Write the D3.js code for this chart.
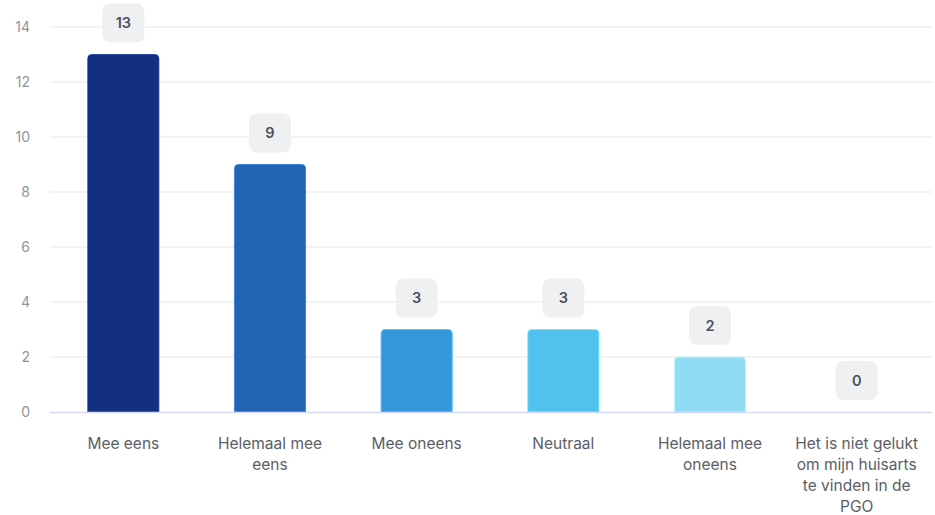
<!DOCTYPE html>
<html><head><meta charset="utf-8">
<script src="https://cdn.jsdelivr.net/npm/d3@7"></script>
<style>body{margin:0;background:#fff;font-family:Inter,"Noto Sans",sans-serif;}</style>
</head><body>
<svg id="c" width="935" height="515"></svg>
<script>
const categories = ["Mee eens","Helemaal mee eens","Mee oneens","Neutraal","Helemaal mee oneens","Het is niet gelukt om mijn huisarts te vinden in de PGO"];
const categoryLines = [["Mee eens"],["Helemaal mee","eens"],["Mee oneens"],["Neutraal"],["Helemaal mee","oneens"],["Het is niet gelukt","om mijn huisarts","te vinden in de","PGO"]];
const values = [13,9,3,3,2,0];
const colors = ["#12307f","#2464b4","#3598dc","#50c2ed","#90dcf3","#b9e9f8"];
const yTicks = [0,2,4,6,8,10,12,14];

const svg = d3.select("#c");
const x = d3.scaleBand().domain(categories).range([50,930]).paddingInner(0.515).paddingOuter(0.2575);
const y = d3.scaleLinear().domain([0,14]).range([412,27]);

// gridlines
svg.append("g").selectAll("line").data(yTicks.filter(d=>d>0)).join("line")
  .attr("x1",50).attr("x2",932).attr("y1",d=>y(d)).attr("y2",d=>y(d))
  .attr("stroke","#e6e7eb").attr("stroke-width",1);

// y axis labels
const yAxis = d3.axisLeft(y).tickValues(yTicks).tickSize(0).tickPadding(0);
const ga = svg.append("g").attr("transform","translate(30,0)").call(yAxis);
ga.select(".domain").remove();
ga.selectAll("text").attr("font-family","Inter, sans-serif").attr("font-size",14).attr("fill","#92959b");

// bars with rounded tops
const r = 4;
svg.append("g").selectAll("path").data(values).join("path")
  .attr("d",(d,i)=>{
    const x0 = x(categories[i]), w = x.bandwidth(), y0 = y(d), y1 = y(0);
    if (d===0) return "";
    return `M${x0},${y1}V${y0+r}Q${x0},${y0} ${x0+r},${y0}H${x0+w-r}Q${x0+w},${y0} ${x0+w},${y0+r}V${y1}Z`;
  })
  .attr("fill",(d,i)=>colors[i])
  .attr("stroke",(d,i)=>d3.color(colors[i]).brighter(0.6))
  .attr("stroke-width",0.8);

// baseline
svg.append("line").attr("x1",50).attr("x2",932).attr("y1",y(0)+0.5).attr("y2",y(0)+0.5)
  .attr("stroke","#d5daf0").attr("stroke-width",1.5);

// value labels
const lbl = svg.append("g").selectAll("g").data(values).join("g")
  .attr("transform",(d,i)=>`translate(${x(categories[i])+x.bandwidth()/2},${y(d)-12-19.5})`);
lbl.append("rect").attr("x",-21).attr("y",-19.5).attr("width",42).attr("height",39)
  .attr("rx",8).attr("fill","#eff0f1");
lbl.append("text").text(d=>d).attr("text-anchor","middle").attr("dy","0.36em")
  .attr("font-family","Inter, sans-serif").attr("font-size",14.5).attr("font-weight",600).attr("fill","#4a5060");

// x labels
const xl = svg.append("g").selectAll("text").data(categoryLines).join("text")
  .attr("text-anchor","middle").attr("font-family","Inter, sans-serif").attr("font-size",15.5).attr("fill","#5a5e66")
  .attr("x",(d,i)=>x(categories[i])+x.bandwidth()/2).attr("y",448.5);
xl.selectAll("tspan").data(d=>d.map(s=>s)).join("tspan")
  .attr("x",function(){return this.parentNode.getAttribute("x");})
  .attr("dy",(d,j)=>j===0?0:21).text(d=>d);
</script>
</body></html>
